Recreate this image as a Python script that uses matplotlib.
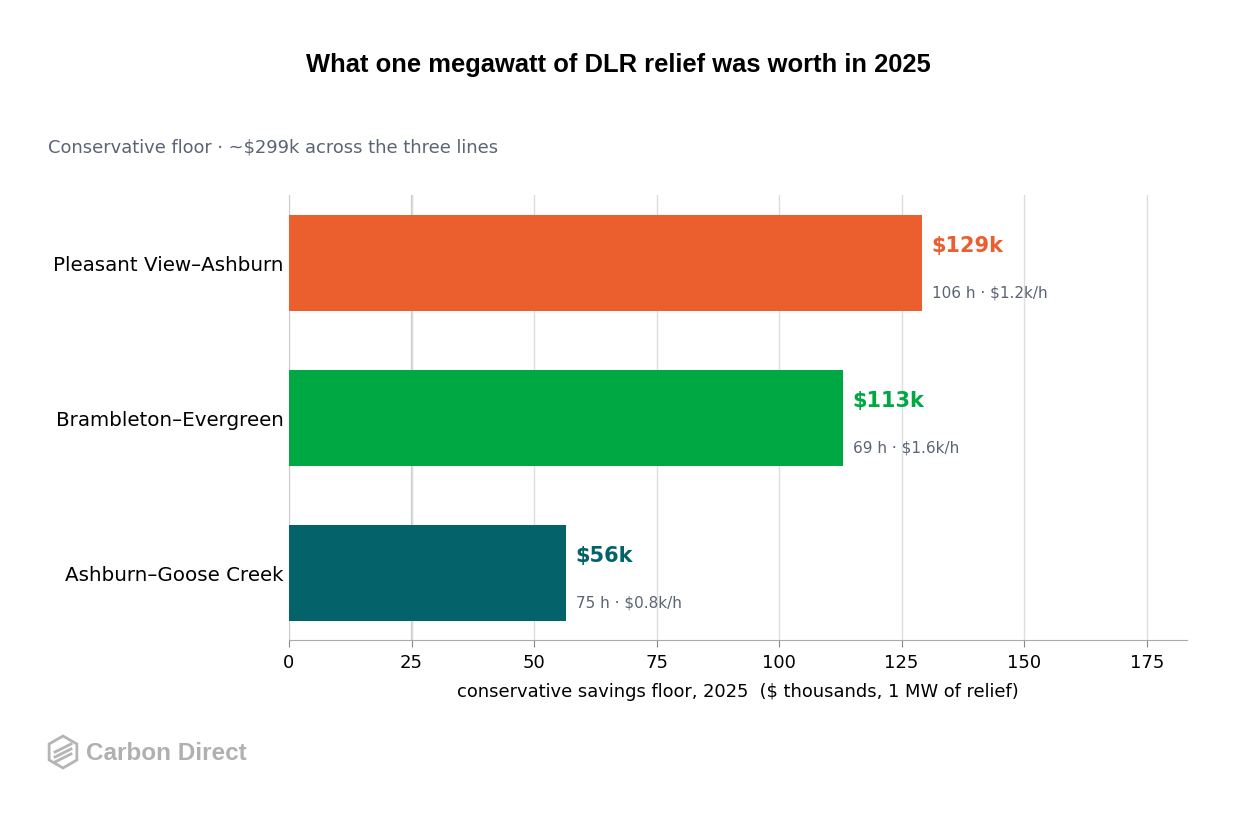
import matplotlib

matplotlib.use("Agg")
import matplotlib.pyplot as plt
from matplotlib.patches import RegularPolygon

# data (top to bottom)
lines = ["Pleasant View–Ashburn", "Brambleton–Evergreen", "Ashburn–Goose Creek"]
savings_k = [129.1, 113.0, 56.5]
value_labels = ["$129k", "$113k", "$56k"]
detail_labels = ["106 h · $1.2k/h", "69 h · $1.6k/h", "75 h · $0.8k/h"]
colors = ["#EB5F2E", "#00A844", "#04636A"]
xticks = [0, 25, 50, 75, 100, 125, 150, 175]

GREY_TEXT = "#5A6474"

fig = plt.figure(figsize=(12.36, 8.18), dpi=100)
ax = fig.add_axes([0.2338, 0.2176, 0.7265, 0.544])

ypos = list(range(len(lines)))[::-1]
ax.barh(ypos, savings_k, height=0.62, color=colors, zorder=3)

for y, v, lab, det, c in zip(ypos, savings_k, value_labels, detail_labels, colors):
    ax.text(v + 2, y + 0.11, lab, color=c, fontsize=15, fontweight="bold", va="center", ha="left")
    ax.text(v + 2, y - 0.19, det, color=GREY_TEXT, fontsize=11, va="center", ha="left")

ax.set_xlim(0, 183.2)
ax.set_ylim(-0.43, 2.44)
ax.set_xticks(xticks)
ax.set_yticks(ypos)
ax.set_yticklabels(lines, fontsize=14.3)
ax.tick_params(axis="x", labelsize=13, length=5, color="#888888", pad=5)
ax.tick_params(axis="y", length=0, pad=4)
ax.xaxis.grid(True, color="#DDDDDD", linewidth=1, zorder=0)
ax.axvline(25, color="#C4CCCC", linewidth=1.6, zorder=0)
for side in ("top", "right"):
    ax.spines[side].set_visible(False)
ax.spines["left"].set_color("#CCCCCC")
ax.spines["bottom"].set_color("#AAAAAA")
ax.set_xlabel("conservative savings floor, 2025  ($ thousands, 1 MW of relief)", fontsize=12.9, labelpad=8)

fig.text(0.5, 0.921, "What one megawatt of DLR relief was worth in 2025", ha="center", va="center",
         fontsize=18.4, fontweight="bold", family="Liberation Sans")
fig.text(0.039, 0.82, "Conservative floor · ~$299k across the three lines", ha="left", va="center",
         fontsize=12.9, color=GREY_TEXT)

# logo
fig.patches.append(RegularPolygon((63, 818 - 752), 6, radius=16, orientation=0, fill=False,
                                  edgecolor="#B5B5B5", linewidth=2, transform=None))
for dy in (-6, -1, 4):
    fig.lines.append(plt.Line2D([55, 71], [818 - 752 + dy - 4, 818 - 752 + dy + 4], color="#B5B5B5",
                                linewidth=2, transform=None))
fig.text(86 / 1236, 1 - 753 / 818, "Carbon Direct", ha="left", va="center", fontsize=17.5,
         fontweight="bold", color="#B0B0B0", family="Liberation Sans")

fig.savefig("out.png", dpi=100)
